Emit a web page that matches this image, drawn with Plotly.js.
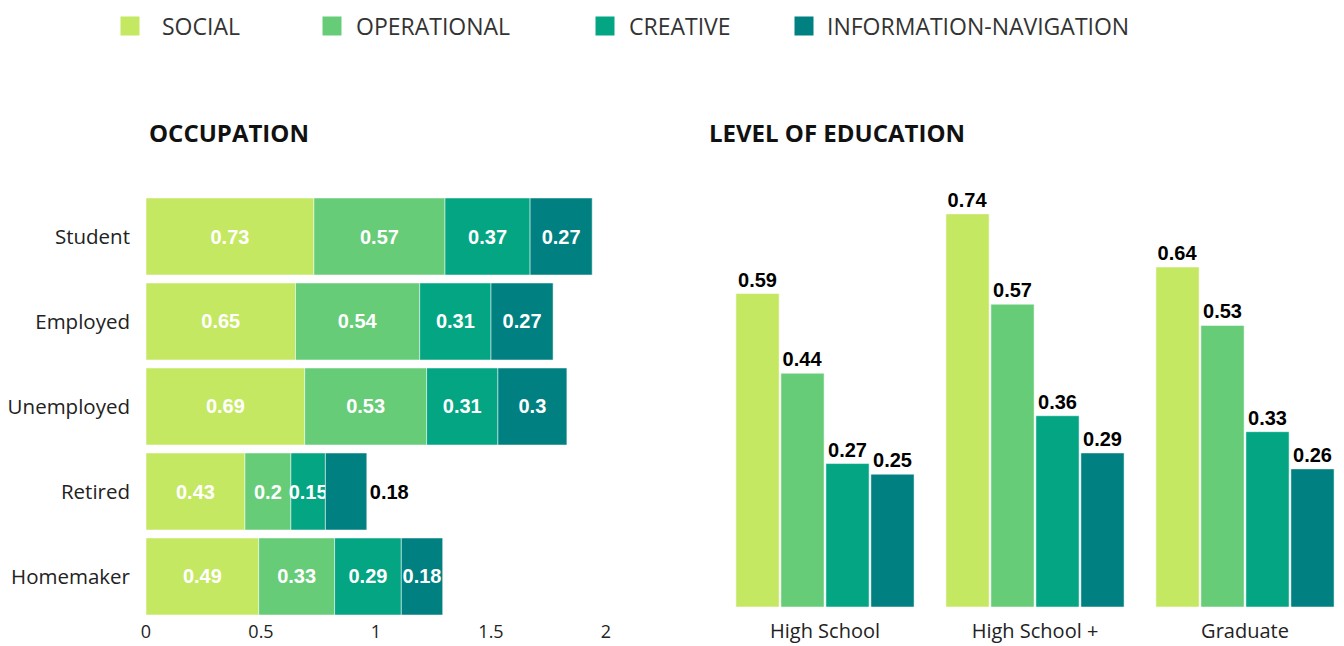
<!DOCTYPE html>
<html>
<head>
<meta charset="utf-8">
<script src="https://cdn.plot.ly/plotly-3.0.1.min.js"></script>
<style>
  html, body { margin: 0; padding: 0; background: #fff; }
  #chart { width: 1344px; height: 646px; }
</style>
</head>
<body>
<div id="chart"></div>
<script>
// ---- data ----
const seriesNames = ['SOCIAL', 'OPERATIONAL', 'CREATIVE', 'INFORMATION-NAVIGATION'];
const seriesColors = ['#C5E863', '#66CC77', '#03A583', '#008080'];

const occupations = ['Student', 'Employed', 'Unemployed', 'Retired', 'Homemaker'];
const occSocial = [0.73, 0.65, 0.69, 0.43, 0.49];
const occOperational = [0.57, 0.54, 0.53, 0.20, 0.33];
const occCreative = [0.37, 0.31, 0.31, 0.15, 0.29];
const occInfoNav = [0.27, 0.27, 0.30, 0.18, 0.18];

const eduLevels = ['High School', 'High School +', 'Graduate'];
const eduSocial = [0.59, 0.74, 0.64];
const eduOperational = [0.44, 0.57, 0.53];
const eduCreative = [0.27, 0.36, 0.33];
const eduInfoNav = [0.25, 0.29, 0.26];

const xTickVals = [0, 0.5, 1, 1.5, 2];
const xTickText = ['0', '0.5', '1', '1.5', '2'];

// ---- build ----
const W = 1344, H = 646;
const occSeries = [occSocial, occOperational, occCreative, occInfoNav];
const eduSeries = [eduSocial, eduOperational, eduCreative, eduInfoNav];
const labelFont = 'Arial, "Liberation Sans", sans-serif';
const uiFont = '"Open Sans", "Noto Sans", sans-serif';

const traces = [];
const cum = occupations.map(() => 0);
occSeries.forEach((vals, i) => {
  const base = cum.slice();
  vals.forEach((v, k) => { cum[k] += v; });
  const isLast = i === occSeries.length - 1;
  traces.push({
    type: 'bar', orientation: 'h',
    x: vals, y: occupations, base: base,
    xaxis: 'x', yaxis: 'y',
    width: 0.906, offset: -0.453,
    marker: { color: seriesColors[i], line: { color: 'rgba(255,255,255,0.5)', width: 1 } },
    text: vals.map(String),
    textposition: isLast ? occupations.map(c => c === 'Retired' ? 'outside' : 'inside') : 'inside',
    insidetextanchor: 'middle',
    constraintext: 'none',
    textangle: 0,
    insidetextfont: { family: labelFont, size: 20, color: '#ffffff', weight: 'bold' },
    outsidetextfont: { family: labelFont, size: 20, color: '#000000', weight: 'bold' },
    cliponaxis: false,
    showlegend: false, hoverinfo: 'skip'
  });
});

eduSeries.forEach((vals, i) => {
  traces.push({
    type: 'bar',
    x: eduLevels, y: vals,
    xaxis: 'x2', yaxis: 'y2',
    marker: { color: seriesColors[i], line: { color: 'rgba(255,255,255,0.5)', width: 1 } },
    text: vals.map(String),
    textposition: 'outside',
    textangle: 0,
    outsidetextfont: { family: labelFont, size: 20, color: '#000000', weight: 'bold' },
    cliponaxis: false,
    showlegend: false, hoverinfo: 'skip'
  });
});

// legend entries (one legend per item, placed independently)
const legendNames = ['legend', 'legend2', 'legend3', 'legend4'];
const legendSymbolLeft = [120, 322, 595, 794];
const legendItemWidth = [54, 38, 38, 36];
seriesNames.forEach((name, i) => {
  traces.push({
    type: 'scatter', mode: 'markers',
    x: [null], y: [null], xaxis: 'x2', yaxis: 'y2',
    name: name,
    marker: { symbol: 'square', size: 20, color: seriesColors[i], line: { color: seriesColors[i], width: 3 } },
    showlegend: true, legend: legendNames[i], hoverinfo: 'skip'
  });
});

const layout = {
  width: W, height: H,
  margin: { l: 0, r: 0, t: 0, b: 0, pad: 0 },
  paper_bgcolor: '#ffffff', plot_bgcolor: '#ffffff',
  barmode: 'group', bargap: 0.143, bargroupgap: 0.04,
  hovermode: false,
  font: { family: uiFont, color: '#222222' },
  xaxis: {
    domain: [146 / W, 606 / W], range: [0, 2],
    tickvals: xTickVals, ticktext: xTickText,
    showgrid: false, zeroline: false, showline: false, ticks: '',
    tickfont: { family: uiFont, size: 18, color: '#222222' },
    ticklabelstandoff: 0, automargin: false, fixedrange: true
  },
  yaxis: {
    domain: [27 / H, 452 / H], range: [4.5, -0.5],
    type: 'category', categoryorder: 'array', categoryarray: occupations,
    showgrid: false, zeroline: false, showline: false, ticks: '',
    tickfont: { family: uiFont, size: 20.5, color: '#222222' },
    ticklabelstandoff: 15, automargin: false, fixedrange: true
  },
  xaxis2: {
    domain: [720 / W, 1340 / W], range: [-0.5, -0.5 + 620 / 210],
    type: 'category', categoryorder: 'array', categoryarray: eduLevels,
    anchor: 'y2',
    showgrid: false, zeroline: false, showline: false, ticks: '',
    tickfont: { family: uiFont, size: 20, color: '#222222' },
    ticklabelstandoff: 10, automargin: false, fixedrange: true
  },
  yaxis2: {
    domain: [39 / H, 464 / H], range: [0, 0.8],
    anchor: 'x2',
    visible: false, fixedrange: true
  },
  annotations: [
    { text: '<b>OCCUPATION</b>', xref: 'paper', yref: 'paper', x: 147 / W, y: 1 - 133 / H,
      xanchor: 'left', yanchor: 'middle', showarrow: false,
      font: { family: uiFont, size: 24, color: '#111111' } },
    { text: '<b>LEVEL OF EDUCATION</b>', xref: 'paper', yref: 'paper', x: 707 / W, y: 1 - 133 / H,
      xanchor: 'left', yanchor: 'middle', showarrow: false,
      font: { family: uiFont, size: 24, color: '#111111' } }
  ]
};
legendNames.forEach((ln, i) => {
  const iw = legendItemWidth[i];
  layout[ln] = {
    orientation: 'h', x: (legendSymbolLeft[i] + 10 - (iw / 2 + 5)) / W, y: 1 - 26 / H,
    xanchor: 'left', yanchor: 'middle', itemwidth: iw,
    font: { family: uiFont, size: 23, color: '#333333' },
    bgcolor: 'rgba(0,0,0,0)', borderwidth: 0, itemclick: false, itemdoubleclick: false
  };
});

Plotly.newPlot('chart', traces, layout, { displayModeBar: false, staticPlot: true });
</script>
</body>
</html>
